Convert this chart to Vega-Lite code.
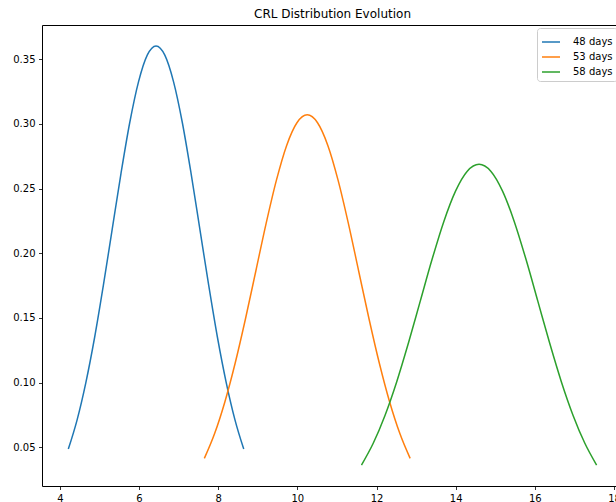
{
  "$schema": "https://vega.github.io/schema/vega-lite/v6.json",
  "autosize": "none",
  "width": 581,
  "height": 461,
  "padding": {"left": 42, "top": 25, "right": 0, "bottom": 16},
  "title": {"text": "CRL Distribution Evolution", "fontSize": 12, "fontWeight": "normal", "font": "DejaVu Sans", "color": "#000", "offset": 4},
  "config": {
    "view": {"stroke": "#000", "strokeWidth": 1},
    "axis": {"grid": false, "domain": false, "tickColor": "#000", "tickSize": 3.5, "tickWidth": 0.8, "labelFont": "DejaVu Sans", "labelFontSize": 10, "labelColor": "#000", "labelPadding": 3.5},
    "legend": {"labelFont": "DejaVu Sans", "labelFontSize": 10, "labelColor": "#000"}
  },
  "data": {"values": [
    {"x": 4.214, "y": 0.0487, "s": "48 days"},
    {"x": 4.436, "y": 0.0713, "s": "48 days"},
    {"x": 4.657, "y": 0.1001, "s": "48 days"},
    {"x": 4.879, "y": 0.1351, "s": "48 days"},
    {"x": 5.100, "y": 0.1753, "s": "48 days"},
    {"x": 5.322, "y": 0.2184, "s": "48 days"},
    {"x": 5.544, "y": 0.2615, "s": "48 days"},
    {"x": 5.765, "y": 0.3008, "s": "48 days"},
    {"x": 5.987, "y": 0.3324, "s": "48 days"},
    {"x": 6.208, "y": 0.3530, "s": "48 days"},
    {"x": 6.430, "y": 0.3601, "s": "48 days"},
    {"x": 6.652, "y": 0.3530, "s": "48 days"},
    {"x": 6.873, "y": 0.3324, "s": "48 days"},
    {"x": 7.095, "y": 0.3008, "s": "48 days"},
    {"x": 7.316, "y": 0.2615, "s": "48 days"},
    {"x": 7.538, "y": 0.2184, "s": "48 days"},
    {"x": 7.760, "y": 0.1753, "s": "48 days"},
    {"x": 7.981, "y": 0.1351, "s": "48 days"},
    {"x": 8.203, "y": 0.1001, "s": "48 days"},
    {"x": 8.424, "y": 0.0713, "s": "48 days"},
    {"x": 8.646, "y": 0.0487, "s": "48 days"},
    {"x": 7.65, "y": 0.0415, "s": "53 days"},
    {"x": 7.91, "y": 0.0607, "s": "53 days"},
    {"x": 8.17, "y": 0.0853, "s": "53 days"},
    {"x": 8.43, "y": 0.1152, "s": "53 days"},
    {"x": 8.69, "y": 0.1494, "s": "53 days"},
    {"x": 8.95, "y": 0.1861, "s": "53 days"},
    {"x": 9.21, "y": 0.2229, "s": "53 days"},
    {"x": 9.47, "y": 0.2563, "s": "53 days"},
    {"x": 9.73, "y": 0.2833, "s": "53 days"},
    {"x": 9.99, "y": 0.3008, "s": "53 days"},
    {"x": 10.25, "y": 0.3069, "s": "53 days"},
    {"x": 10.51, "y": 0.3008, "s": "53 days"},
    {"x": 10.77, "y": 0.2833, "s": "53 days"},
    {"x": 11.03, "y": 0.2563, "s": "53 days"},
    {"x": 11.29, "y": 0.2229, "s": "53 days"},
    {"x": 11.55, "y": 0.1861, "s": "53 days"},
    {"x": 11.81, "y": 0.1494, "s": "53 days"},
    {"x": 12.07, "y": 0.1152, "s": "53 days"},
    {"x": 12.33, "y": 0.0853, "s": "53 days"},
    {"x": 12.59, "y": 0.0607, "s": "53 days"},
    {"x": 12.85, "y": 0.0415, "s": "53 days"},
    {"x": 11.620, "y": 0.0364, "s": "58 days"},
    {"x": 11.917, "y": 0.0532, "s": "58 days"},
    {"x": 12.214, "y": 0.0747, "s": "58 days"},
    {"x": 12.511, "y": 0.1008, "s": "58 days"},
    {"x": 12.808, "y": 0.1308, "s": "58 days"},
    {"x": 13.105, "y": 0.1630, "s": "58 days"},
    {"x": 13.402, "y": 0.1951, "s": "58 days"},
    {"x": 13.699, "y": 0.2244, "s": "58 days"},
    {"x": 13.996, "y": 0.2480, "s": "58 days"},
    {"x": 14.293, "y": 0.2634, "s": "58 days"},
    {"x": 14.590, "y": 0.2687, "s": "58 days"},
    {"x": 14.887, "y": 0.2634, "s": "58 days"},
    {"x": 15.184, "y": 0.2480, "s": "58 days"},
    {"x": 15.481, "y": 0.2244, "s": "58 days"},
    {"x": 15.778, "y": 0.1951, "s": "58 days"},
    {"x": 16.075, "y": 0.1630, "s": "58 days"},
    {"x": 16.372, "y": 0.1308, "s": "58 days"},
    {"x": 16.669, "y": 0.1008, "s": "58 days"},
    {"x": 16.966, "y": 0.0747, "s": "58 days"},
    {"x": 17.263, "y": 0.0532, "s": "58 days"},
    {"x": 17.560, "y": 0.0364, "s": "58 days"}
  ]},
  "mark": {"type": "line", "strokeWidth": 1.5, "interpolate": "monotone"},
  "encoding": {
    "x": {"field": "x", "type": "quantitative", "title": null,
          "scale": {"domain": [3.549, 18.227], "nice": false, "zero": false},
          "axis": {"values": [4, 6, 8, 10, 12, 14, 16, 18], "format": "d"}},
    "y": {"field": "y", "type": "quantitative", "title": null,
          "scale": {"domain": [0.0202, 0.3763], "nice": false, "zero": false},
          "axis": {"values": [0.05, 0.1, 0.15, 0.2, 0.25, 0.3, 0.35], "format": ".2f"}},
    "color": {"field": "s", "type": "nominal", "title": null,
              "scale": {"domain": ["48 days", "53 days", "58 days"], "range": ["#1f77b4", "#ff7f0e", "#2ca02c"]},
              "legend": {"orient": "none", "legendX": 495, "legendY": 3, "symbolType": "stroke", "symbolSize": 324, "symbolStrokeWidth": 1.5, "rowPadding": -2.5, "labelOffset": 12, "padding": 4, "fillColor": "#fff", "strokeColor": "#ccc", "cornerRadius": 3}}
  }
}
